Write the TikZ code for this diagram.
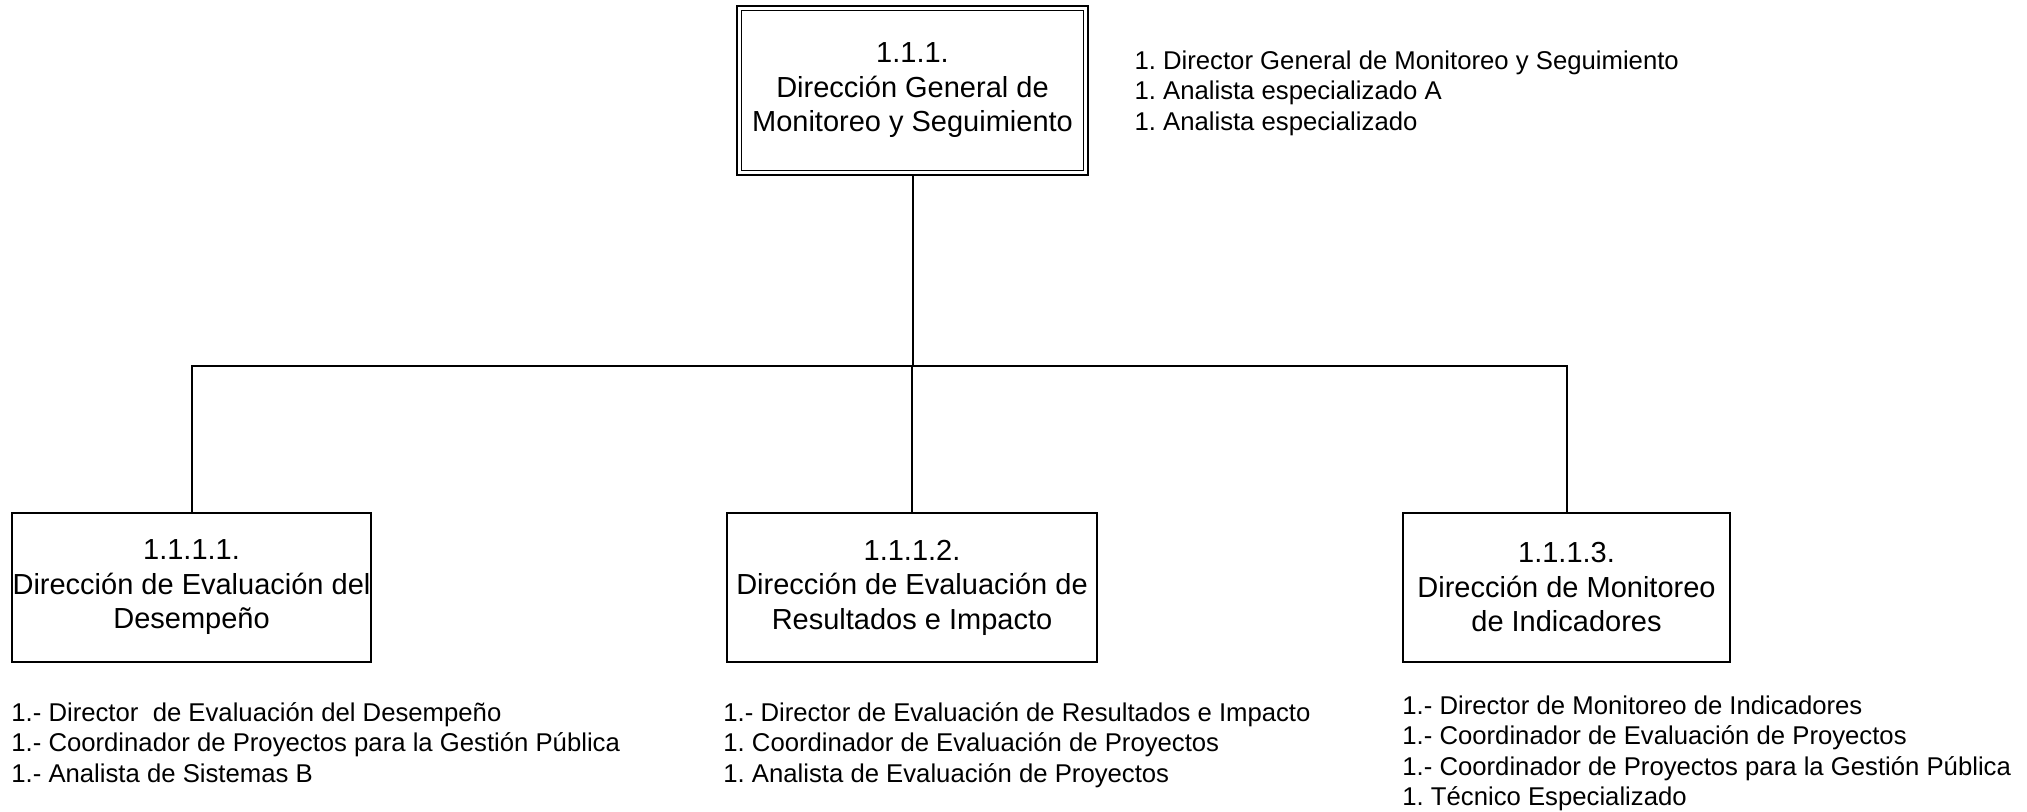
\documentclass[tikz,border=0pt]{standalone}
\usepackage{fontspec}
\setmainfont{Liberation Sans}
\usetikzlibrary{positioning}
\frenchspacing

\begin{document}
\begin{tikzpicture}[x=0.5pt,y=0.5pt,
  unidad/.style={draw,line width=1pt,align=center,inner sep=0pt,minimum height=74.5pt,font=\fontsize{14.5}{17.25}\selectfont},
  general/.style={unidad,double,double distance=1.5pt,line width=0.8pt,outer sep=1.55pt,minimum width=173.15pt,minimum height=82.15pt},
  puestos/.style={align=left,inner sep=0pt,font=\fontsize{12.85}{15.25}\selectfont},
  linea/.style={line width=1pt}]
\useasboundingbox (0,0) rectangle (2027,812);

\node[general] (dgms) at (912.5,721.5) {1.1.1.\\Dirección General de\\Monitoreo y Seguimiento};
\node[puestos,right=22.7pt of dgms,yshift=-1.3pt] (dgms-p) {1. Director General de Monitoreo y Seguimiento\\1. Analista especializado A\\1. Analista especializado};

\node[unidad,minimum width=179.5pt] (ded) at (191.5,224.5) {1.1.1.1.\\Dirección de Evaluación del\\Desempeño};
\node[unidad,minimum width=185pt] (deri) at (912,224.5) {1.1.1.2.\\Dirección de Evaluación de\\Resultados e Impacto};
\node[unidad,minimum width=163.5pt] (dmi) at (1566.5,224.5) {1.1.1.3.\\Dirección de Monitoreo\\de Indicadores};

\coordinate (bus) at (912,446);
\draw[linea] (dgms.south) -- (dgms.south |- bus);
\draw[linea] (ded.north) |- (bus) -| (dmi.north);
\draw[linea] (deri.north) -- (deri.north |- bus);

\node[puestos,below right=19.5pt and 0pt of ded.south west] (ded-p) {1.- Director~ de Evaluación del Desempeño\\1.- Coordinador de Proyectos para la Gestión Pública\\1.- Analista de Sistemas B};
\node[puestos,below right=19.5pt and -1.5pt of deri.south west] (deri-p) {1.- Director de Evaluación de Resultados e Impacto\\1. Coordinador de Evaluación de Proyectos\\1. Analista de Evaluación de Proyectos};
\node[puestos,below right=16pt and 0pt of dmi.south west] (dmi-p) {1.- Director de Monitoreo de Indicadores\\1.- Coordinador de Evaluación de Proyectos\\1.- Coordinador de Proyectos para la Gestión Pública\\1. Técnico Especializado};

\end{tikzpicture}
\end{document}
